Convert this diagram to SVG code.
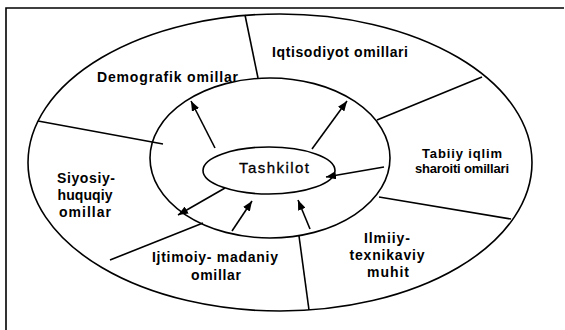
<svg xmlns="http://www.w3.org/2000/svg" width="565" height="330" viewBox="0 0 565 330">
  <defs>
    <marker id="head" markerUnits="userSpaceOnUse" markerWidth="10" markerHeight="8" refX="10" refY="4" orient="auto">
      <path d="M0,0 L10,4 L0,8 z" fill="#000"/>
    </marker>
    <style>
      .ln { fill: none; stroke: #000; stroke-width: 1.6; }
      .lbl { font-family: "Liberation Sans", Arial, sans-serif; font-weight: bold; font-size: 14px; fill: #000; text-anchor: middle; }
      .sm { font-size: 13px; }
      .core { font-family: "Liberation Sans", Arial, sans-serif; font-size: 15px; fill: #000; text-anchor: middle; stroke: #000; stroke-width: 0.3; }
      .arrow { fill: none; stroke: #000; stroke-width: 1.6; marker-end: url(#head); }
    </style>
  </defs>
  <rect width="565" height="330" fill="#fff"/>

  <!-- open frame: top and left edges only -->
  <g id="frame">
    <path class="ln" d="M6,330 L6,8 L564,8" stroke-width="2"/>
  </g>

  <!-- outer environment ring and inner environment ring -->
  <g id="rings">
    <ellipse class="ln" cx="280" cy="162.5" rx="252" ry="148.5"/>
    <ellipse class="ln" cx="270" cy="158" rx="120" ry="80"/>
  </g>

  <!-- sector dividers of the outer ring -->
  <g id="dividers">
    <line class="ln" x1="245" y1="15" x2="258" y2="78"/>
    <line class="ln" x1="482" y1="77" x2="377" y2="120"/>
    <line class="ln" x1="379" y1="197" x2="511" y2="219"/>
    <line class="ln" x1="299" y1="236" x2="309" y2="310"/>
    <line class="ln" x1="203" y1="223" x2="110" y2="260"/>
    <line class="ln" x1="38" y1="121" x2="163" y2="144"/>
  </g>

  <g id="demografik">
    <text class="lbl" x="167.5" y="82" textLength="141" lengthAdjust="spacing">Demografik omillar</text>
  </g>
  <g id="iqtisodiyot">
    <text class="lbl" x="340" y="57" textLength="136" lengthAdjust="spacing">Iqtisodiyot omillari</text>
  </g>
  <g id="tabiiy">
    <text class="lbl sm" x="462" y="158" textLength="80" lengthAdjust="spacing">Tabiiy iqlim</text>
    <text class="lbl sm" x="462" y="173" textLength="94" lengthAdjust="spacing">sharoiti omillari</text>
  </g>
  <g id="ilmiy">
    <text class="lbl" x="387" y="243" textLength="46" lengthAdjust="spacing">Ilmiiy-</text>
    <text class="lbl" x="387" y="260" textLength="75" lengthAdjust="spacing">texnikaviy</text>
    <text class="lbl" x="388" y="277" textLength="42" lengthAdjust="spacing">muhit</text>
  </g>
  <g id="ijtimoiy">
    <text class="lbl" x="215" y="262" textLength="126" lengthAdjust="spacing">Ijtimoiy- madaniy</text>
    <text class="lbl" x="216" y="280" textLength="50" lengthAdjust="spacing">omillar</text>
  </g>
  <g id="siyosiy">
    <text class="lbl" x="86" y="183" textLength="58" lengthAdjust="spacing">Siyosiy-</text>
    <text class="lbl" x="85" y="200" textLength="55" lengthAdjust="spacing">huquqiy</text>
    <text class="lbl" x="85" y="217" textLength="52" lengthAdjust="spacing">omillar</text>
  </g>

  <g id="tashkilot">
    <ellipse class="ln" cx="269" cy="170.5" rx="66" ry="23.5"/>
    <text class="core" x="274" y="173" textLength="70" lengthAdjust="spacing">Tashkilot</text>
  </g>

  <!-- influence arrows between the organisation and its environment -->
  <g id="connectors">
    <line class="arrow" x1="215" y1="148" x2="191" y2="101"/>
    <line class="arrow" x1="312" y1="149" x2="347" y2="101"/>
    <line class="arrow" x1="384" y1="167" x2="326" y2="177"/>
    <line class="arrow" x1="225" y1="188" x2="178" y2="215"/>
    <line class="arrow" x1="232" y1="231" x2="252" y2="201"/>
    <line class="arrow" x1="310" y1="229" x2="298" y2="200"/>
  </g>
</svg>
